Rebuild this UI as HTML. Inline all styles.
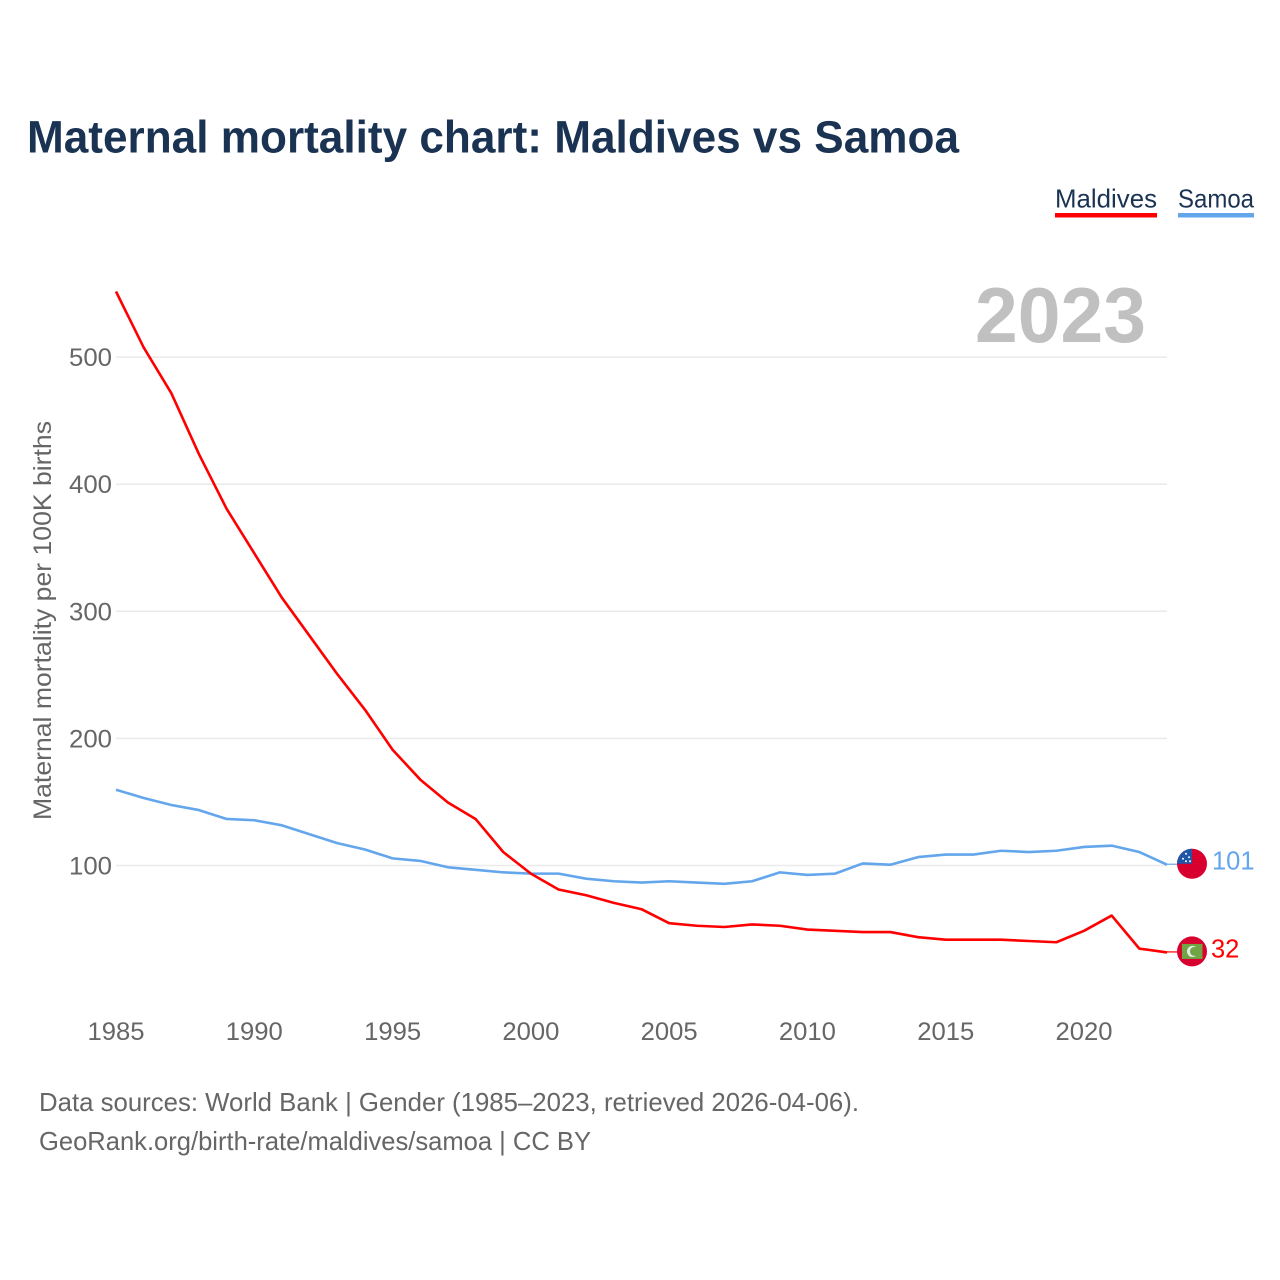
<!DOCTYPE html>
<html lang="en">
<head>
<meta charset="utf-8">
<title>Maternal mortality chart: Maldives vs Samoa</title>
<style>
html,body{margin:0;padding:0;background:#fff;width:1280px;height:1280px;overflow:hidden}
svg{display:block}
text{font-family:"Liberation Sans",sans-serif}
</style>
</head>
<body>
<svg id="chart" xmlns="http://www.w3.org/2000/svg" width="1280" height="1280" viewBox="0 0 1280 1280">
  <rect width="1280" height="1280" fill="#fff"/>
  <text x="27" y="152.5" font-size="45" font-weight="700" fill="#1a3353" textLength="932" lengthAdjust="spacingAndGlyphs">Maternal mortality chart: Maldives vs Samoa</text>

  <text x="1055" y="207.5" font-size="26" fill="#1a3353" textLength="102" lengthAdjust="spacingAndGlyphs">Maldives</text>
  <rect x="1055" y="213" width="102" height="4.5" fill="#ff0000"/>
  <text x="1178" y="207.5" font-size="26" fill="#1a3353" textLength="76" lengthAdjust="spacingAndGlyphs">Samoa</text>
  <rect x="1178" y="213" width="76" height="4.5" fill="#63a6ec"/>

  <g id="grid"></g>
  <g id="yticks"></g>
  <g id="xticks"></g>

  <text x="975" y="342" font-size="78" font-weight="700" fill="#c0c0c0" textLength="171" lengthAdjust="spacingAndGlyphs">2023</text>
  <text transform="translate(51,820) rotate(-90)" font-size="25" fill="#666" textLength="399" lengthAdjust="spacingAndGlyphs">Maternal mortality per 100K births</text>

  <g id="series" transform="translate(0,0.5)"></g>
  <g id="ends"></g>

  <text x="39" y="1111" font-size="26" fill="#666" textLength="820" lengthAdjust="spacingAndGlyphs">Data sources: World Bank | Gender (1985–2023, retrieved 2026-04-06).</text>
  <text x="39" y="1150" font-size="26" fill="#666" textLength="552" lengthAdjust="spacingAndGlyphs">GeoRank.org/birth-rate/maldives/samoa | CC BY</text>
</svg>
<script>
const years = [1985,1986,1987,1988,1989,1990,1991,1992,1993,1994,1995,1996,1997,1998,1999,2000,2001,2002,2003,2004,2005,2006,2007,2008,2009,2010,2011,2012,2013,2014,2015,2016,2017,2018,2019,2020,2021,2022,2023];
const maldives = [552,508,472,424,381,346,311,281,251,223,191.5,168,150,137,111,94,81.5,77,71,66,55,53,52,54,53,50,49,48,48,44,42,42,42,41,40,49,61,35,32];
const samoa = [160,153.5,148,144,137,136,132,125,118,113,106,104,99,97,95,94,94,90,88,87,88,87,86,88,95,93,94,102,101,107,109,109,112,111,112,115,116,111,101];
const yTickValues = [100,200,300,400,500];
const xTickValues = [1985,1990,1995,2000,2005,2010,2015,2020];

const NS = 'http://www.w3.org/2000/svg';
const x = v => 116 + (v - 1985) * (1051 / 38);
const y = v => 992.6 - v * 1.271;
function make(tag, attrs, parent, content) {
  const el = document.createElementNS(NS, tag);
  for (const k in attrs) el.setAttribute(k, attrs[k]);
  if (content !== undefined) el.textContent = content;
  parent.appendChild(el);
  return el;
}
const grid = document.getElementById('grid');
const yticks = document.getElementById('yticks');
const xticks = document.getElementById('xticks');
const series = document.getElementById('series');
const ends = document.getElementById('ends');

yTickValues.forEach(v => {
  const line = make('line', {x1: 116, x2: 1167, y1: y(v), y2: y(v), stroke: '#eaeaea', 'stroke-width': 1.5}, grid);
  
  
  const t = make('text', {x: 112, y: y(v) + 9, 'text-anchor': 'end', 'font-size': 25, fill: '#666', textLength: 43, lengthAdjust: 'spacingAndGlyphs'}, yticks, String(v));
  
  
});

xTickValues.forEach(v => {
  const t = make('text', {x: x(v), y: 1040, 'text-anchor': 'middle', 'font-size': 25, fill: '#666', textLength: 57, lengthAdjust: 'spacingAndGlyphs'}, xticks, String(v));
  
  
});

function drawLine(values, colour) {
  const pts = values.map((v, i) => x(years[i]).toFixed(2) + ',' + y(v).toFixed(2)).join(' ');
  return make('polyline', {points: pts, fill: 'none', stroke: colour, 'stroke-width': 2.6, 'stroke-linejoin': 'round'}, series);
}
const lineSamoa = drawLine(samoa, '#63a6ec');


const lineMaldives = drawLine(maldives, '#ff0000');



function drawEnd(values, colour, labelX) {
  const last = values[values.length - 1];
  const ex = x(years[years.length - 1]);
  const ey = y(last);
  const cx = 1192, cy = ey - 0.5;
  const g = make('g', {}, ends);
  make('line', {x1: ex, x2: 1178, y1: ey, y2: ey, stroke: colour, 'stroke-width': 1.2}, g);
  make('circle', {cx: cx, cy: cy, r: 15, fill: '#d8002e'}, g);
  if (colour === '#ff0000') {
    make('rect', {x: cx - 10, y: cy - 7.5, width: 20.5, height: 15, fill: '#6fa544'}, g);
    make('circle', {cx: cx + 0.5, cy: cy, r: 5.5, fill: '#e8ece4'}, g);
    make('circle', {cx: cx + 2.5, cy: cy, r: 4.6, fill: '#6fa544'}, g);
  } else {
    make('path', {d: 'M' + (cx - 15) + ' ' + cy + 'A15 15 0 0 1 ' + cx + ' ' + (cy - 15) + 'V' + cy + 'Z', fill: '#1f56a8'}, g);
    [[-6,-10],[-3,-6.5],[-9,-5],[-6,-2.5],[-2,-2.5]].forEach(p => {
      make('circle', {cx: cx + p[0], cy: cy + p[1], r: 1, fill: '#fff'}, g);
    });
  }
  make('text', {x: labelX, y: cy + 6, 'font-size': 25.5, fill: colour}, g, String(last));
  return g;
}
const endSamoa = drawEnd(samoa, '#63a6ec', 1212);


const endMaldives = drawEnd(maldives, '#ff0000', 1211);


</script>
</body>
</html>
